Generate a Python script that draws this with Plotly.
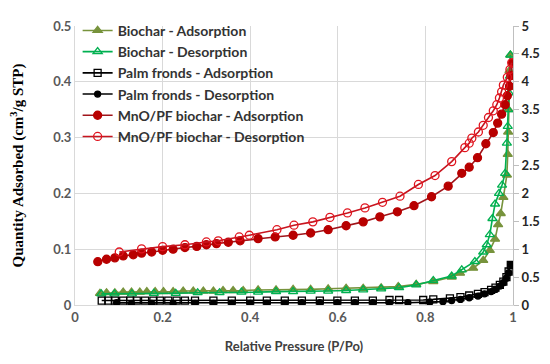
import plotly.graph_objects as go

# Biochar (left axis, cm3/g STP)
bio_ads_x = [0.057,0.072,0.091,0.110,0.129,0.148,0.164,0.183,0.202,0.224,0.247,0.270,0.293,0.316,0.338,0.361,0.384,0.418,0.459,0.498,0.538,0.578,0.619,0.658,0.699,0.738,0.779,0.818,0.860,0.879,0.909,0.932,0.947,0.959,0.966,0.972,0.978,0.986,0.988,0.989,0.990,0.991,0.992,0.994]
bio_ads_y = [0.021,0.022,0.022,0.023,0.023,0.023,0.024,0.024,0.024,0.024,0.025,0.025,0.025,0.025,0.026,0.026,0.026,0.027,0.027,0.028,0.028,0.029,0.030,0.030,0.031,0.033,0.037,0.042,0.050,0.057,0.066,0.080,0.098,0.118,0.144,0.164,0.193,0.233,0.270,0.310,0.350,0.390,0.420,0.448]
bio_des_x = [0.994,0.993,0.991,0.989,0.988,0.986,0.982,0.975,0.968,0.959,0.953,0.947,0.940,0.932,0.913,0.883,0.860,0.818,0.779,0.740,0.699,0.658,0.619,0.578,0.538,0.498,0.459,0.418,0.380,0.330,0.280,0.230,0.180,0.130,0.090,0.060]
bio_des_y = [0.448,0.410,0.380,0.350,0.320,0.290,0.236,0.215,0.200,0.181,0.155,0.126,0.108,0.095,0.078,0.063,0.052,0.044,0.036,0.031,0.029,0.027,0.026,0.025,0.025,0.024,0.024,0.023,0.023,0.022,0.022,0.021,0.021,0.020,0.020,0.020]

# Palm fronds (left axis)
pf_ads_x = [0.061,0.076,0.091,0.110,0.126,0.141,0.160,0.179,0.194,0.213,0.232,0.251,0.274,0.316,0.358,0.400,0.438,0.479,0.518,0.559,0.599,0.639,0.680,0.718,0.740,0.795,0.818,0.856,0.880,0.900,0.920,0.935,0.950,0.960,0.970,0.978,0.985,0.990,0.995]
pf_ads_y = [0.008,0.008,0.008,0.008,0.008,0.008,0.008,0.008,0.008,0.008,0.008,0.008,0.008,0.008,0.008,0.008,0.008,0.008,0.008,0.008,0.008,0.008,0.008,0.009,0.009,0.009,0.010,0.012,0.014,0.017,0.020,0.023,0.027,0.031,0.036,0.042,0.050,0.060,0.072]
pf_des_x = [0.995,0.990,0.985,0.978,0.970,0.960,0.950,0.935,0.920,0.900,0.880,0.860,0.840,0.810,0.760,0.718,0.680,0.639,0.599,0.559,0.518,0.479,0.438,0.400,0.358,0.316,0.274,0.224,0.175,0.129,0.095]
pf_des_y = [0.072,0.058,0.048,0.040,0.034,0.028,0.024,0.020,0.016,0.013,0.010,0.008,0.006,0.005,0.004,0.004,0.004,0.004,0.004,0.004,0.004,0.003,0.003,0.003,0.003,0.003,0.003,0.003,0.003,0.003,0.004]

# MnO/PF biochar (right axis)
mno_ads_x = [0.052,0.072,0.091,0.110,0.133,0.152,0.175,0.200,0.224,0.251,0.278,0.300,0.323,0.350,0.377,0.418,0.457,0.498,0.538,0.578,0.619,0.658,0.696,0.736,0.774,0.814,0.852,0.883,0.900,0.919,0.938,0.955,0.965,0.974,0.982,0.987,0.992,0.995,0.999]
mno_ads_y = [0.776,0.820,0.845,0.880,0.900,0.930,0.950,0.980,1.000,1.030,1.050,1.080,1.100,1.125,1.150,1.190,1.220,1.250,1.290,1.350,1.420,1.490,1.580,1.670,1.780,1.940,2.130,2.360,2.470,2.640,2.890,3.090,3.260,3.420,3.590,3.750,3.920,4.110,4.340]
mno_des_x = [0.997,0.993,0.987,0.978,0.974,0.969,0.963,0.955,0.944,0.932,0.921,0.906,0.900,0.890,0.860,0.822,0.784,0.742,0.702,0.662,0.622,0.582,0.543,0.500,0.461,0.398,0.375,0.327,0.300,0.251,0.200,0.152,0.101]
mno_des_y = [4.340,4.220,4.080,3.940,3.820,3.710,3.590,3.480,3.360,3.220,3.100,2.990,2.900,2.820,2.570,2.320,2.160,1.950,1.840,1.740,1.650,1.570,1.490,1.430,1.350,1.250,1.220,1.150,1.130,1.080,1.046,1.006,0.950]

fig = go.Figure()

def add(x, y, name, color, symbol, size, mcolor, yaxis="y", lw=1.6):
    marker = dict(symbol=symbol, size=size, color=mcolor, line=dict(color=mcolor, width=1.3))
    fig.add_trace(go.Scatter(x=x, y=y, name=name, mode="lines+markers", yaxis=yaxis,
                             line=dict(color=color, width=lw), marker=marker))

add(bio_ads_x, bio_ads_y, "Biochar - Adsorption", "#77933C", "triangle-up", 8, "#77933C")
add(bio_des_x, bio_des_y, "Biochar - Desorption", "#00B050", "triangle-up-open", 8, "#00B050")
add(pf_ads_x, pf_ads_y, "Palm fronds - Adsorption", "#000000", "square-open", 7, "#000000")
add(pf_des_x, pf_des_y, "Palm fronds - Desorption", "#000000", "circle", 6, "#000000")
add(mno_ads_x, mno_ads_y, "MnO/PF biochar - Adsorption", "#A0141A", "circle", 8, "#B80000", yaxis="y2")
add(mno_des_x, mno_des_y, "MnO/PF biochar - Desorption", "#C8141E", "circle-open", 8, "#E0141E", yaxis="y2")

tickfont_gray = dict(family="Lato", size=13, color="#595959", weight="bold")
fig.update_layout(
    width=542, height=356,
    margin=dict(l=67, r=37, t=7, b=59),
    paper_bgcolor="white", plot_bgcolor="white",
    showlegend=True,
    legend=dict(x=0.006, y=1.04, xanchor="left", yanchor="top", bgcolor="rgba(255,255,255,0)",
                font=dict(family="Lato", size=14, color="#333333", weight="bold"),
                tracegroupgap=0, itemwidth=30),
    xaxis=dict(range=[0, 1], tickvals=[0, 0.2, 0.4, 0.6, 0.8, 1],
               ticktext=["0", "0.2", "0.4", "0.6", "0.8", "1"],
               showgrid=True, gridcolor="#D9D9D9", gridwidth=1,
               showline=True, linecolor="#D9D9D9", ticks="", zeroline=False,
               tickfont=tickfont_gray,
               title=dict(text="Relative Pressure (P/Po)", standoff=18,
                          font=dict(family="Lato", size=13, color="#404040", weight="bold"))),
    yaxis=dict(range=[0, 0.5], tickvals=[0, 0.1, 0.2, 0.3, 0.4, 0.5],
               ticktext=["0", "0.1", "0.2", "0.3", "0.4", "0.5"],
               showgrid=True, gridcolor="#D9D9D9", gridwidth=1,
               showline=True, linecolor="#D9D9D9", ticks="", zeroline=False,
               tickfont=tickfont_gray, ticklabeloverflow="allow",
               title=dict(text="Quantity Adsorbed (cm<sup>3</sup>/g STP)", standoff=25,
                          font=dict(family="Liberation Serif", size=15, color="#000000", weight="bold"))),
    yaxis2=dict(range=[0, 5], overlaying="y", side="right", anchor="x",
                tickvals=[0, 0.5, 1, 1.5, 2, 2.5, 3, 3.5, 4, 4.5, 5],
                ticktext=["0", "0.5", "1", "1.5", "2", "2.5", "3", "3.5", "4", "4.5", "5"],
                showgrid=False, showline=True, linecolor="#BFBFBF", ticks="outside",
                ticklen=5, tickcolor="#BFBFBF", zeroline=False, ticklabeloverflow="allow",
                tickfont=dict(family="Lato", size=13, color="#262626", weight="bold")),
)

fig.write_html("out.html")
